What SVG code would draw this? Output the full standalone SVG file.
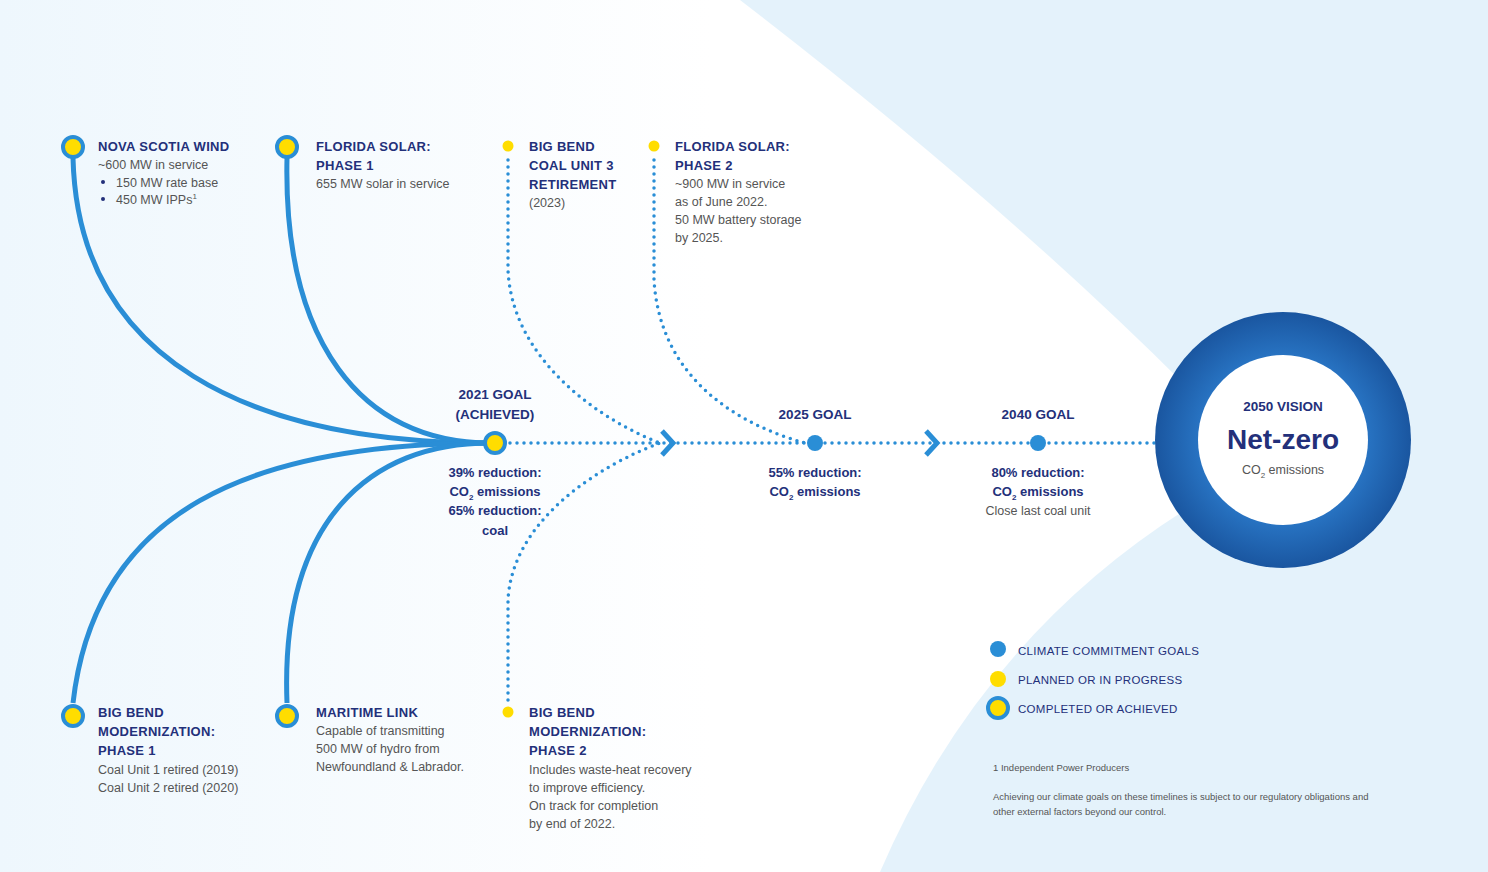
<svg xmlns="http://www.w3.org/2000/svg" width="1488" height="872" viewBox="0 0 1488 872">
<style>
.h{font-family:"Liberation Sans",Arial,sans-serif;font-weight:bold;font-size:13px;fill:#23307a;letter-spacing:0.3px}
.t{font-family:"Liberation Sans",Arial,sans-serif;font-size:12.5px;fill:#555}
.g{font-family:"Liberation Sans",Arial,sans-serif;font-weight:bold;font-size:13.5px;fill:#23307a;text-anchor:middle}
.r{font-family:"Liberation Sans",Arial,sans-serif;font-weight:bold;font-size:13px;fill:#23307a;text-anchor:middle}
.l{font-family:"Liberation Sans",Arial,sans-serif;font-size:11.5px;fill:#23307a;letter-spacing:0.3px}
.f{font-family:"Liberation Sans",Arial,sans-serif;font-size:9.5px;fill:#555}
.s{fill:none;stroke:#2a8ed6;stroke-width:5}
.d{fill:none;stroke:#2a8ed6;stroke-width:3.5;stroke-dasharray:0 7;stroke-linecap:round}
.ring{fill:#ffdd00;stroke:#2a8ed6;stroke-width:4}
.y{fill:#ffdd00}
</style>
<defs>
<linearGradient id="bg" x1="0" x2="1" y1="0" y2="0"><stop offset="0" stop-color="#eef7fd"/><stop offset="0.6" stop-color="#ffffff"/></linearGradient>
<radialGradient id="cg"><stop offset="0.6" stop-color="#2a78c8"/><stop offset="1" stop-color="#1a56a0"/></radialGradient>
</defs>
<rect width="1488" height="872" fill="#e4f2fb"/>
<path d="M0,0 L740,0 Q1000,200 1185,385 L1185,510 Q980,640 880,872 L0,872 Z" fill="url(#bg)"/>
<g id="connectors">
<path class="s" d="M73,158 C78,360 250,443 490,443"/>
<path class="s" d="M287,158 C283,340 360,443 490,443"/>
<path class="s" d="M73,703 C95,510 250,443 490,443"/>
<path class="s" d="M287,703 C280,520 370,443 490,443"/>
<path class="d" d="M508,160 L508,270 C512,360 600,420 660,443"/>
<path class="d" d="M654,160 L654,280 C660,380 740,425 805,443"/>
<path class="d" d="M508,700 L508,600 C512,520 600,465 660,443"/>
<path class="d" d="M510,443 L1158,443"/>
<path d="M662,431 L673,443 L662,455" fill="none" stroke="#2a8ed6" stroke-width="5"/>
<path d="M926,431 L937,443 L926,455" fill="none" stroke="#2a8ed6" stroke-width="5"/>
</g>
<g id="nova-scotia"><circle class="ring" cx="73" cy="147" r="10"/>
<text class="h" x="98" y="151">NOVA SCOTIA WIND</text>
<text class="t" x="98" y="169">~600 MW in service</text>
<circle cx="103" cy="182" r="2" fill="#23307a"/><text class="t" x="116" y="187">150 MW rate base</text>
<circle cx="103" cy="199" r="2" fill="#23307a"/><text class="t" x="116" y="204">450 MW IPPs<tspan font-size="8" dy="-5">1</tspan></text></g>
<g id="florida-solar-1"><circle class="ring" cx="287" cy="147" r="10"/>
<text class="h" x="316" y="151">FLORIDA SOLAR:</text><text class="h" x="316" y="170">PHASE 1</text>
<text class="t" x="316" y="188">655 MW solar in service</text></g>
<g id="big-bend-3"><circle class="y" cx="508" cy="146" r="5.5"/>
<text class="h" x="529" y="151">BIG BEND</text><text class="h" x="529" y="170">COAL UNIT 3</text><text class="h" x="529" y="189">RETIREMENT</text>
<text class="t" x="529" y="207">(2023)</text></g>
<g id="florida-solar-2"><circle class="y" cx="654" cy="146" r="5.5"/>
<text class="h" x="675" y="151">FLORIDA SOLAR:</text><text class="h" x="675" y="170">PHASE 2</text>
<text class="t" x="675" y="188">~900 MW in service</text><text class="t" x="675" y="206">as of June 2022.</text>
<text class="t" x="675" y="224">50 MW battery storage</text><text class="t" x="675" y="242">by 2025.</text></g>
<g id="big-bend-mod-1"><circle class="ring" cx="73" cy="716" r="10"/>
<text class="h" x="98" y="717">BIG BEND</text><text class="h" x="98" y="736">MODERNIZATION:</text><text class="h" x="98" y="755">PHASE 1</text>
<text class="t" x="98" y="774">Coal Unit 1 retired (2019)</text><text class="t" x="98" y="792">Coal Unit 2 retired (2020)</text></g>
<g id="maritime"><circle class="ring" cx="287" cy="716" r="10"/>
<text class="h" x="316" y="717">MARITIME LINK</text>
<text class="t" x="316" y="735">Capable of transmitting</text><text class="t" x="316" y="753">500 MW of hydro from</text><text class="t" x="316" y="771">Newfoundland &amp; Labrador.</text></g>
<g id="big-bend-mod-2"><circle class="y" cx="508" cy="712" r="5.5"/>
<text class="h" x="529" y="717">BIG BEND</text><text class="h" x="529" y="736">MODERNIZATION:</text><text class="h" x="529" y="755">PHASE 2</text>
<text class="t" x="529" y="774">Includes waste-heat recovery</text><text class="t" x="529" y="792">to improve efficiency.</text>
<text class="t" x="529" y="810">On track for completion</text><text class="t" x="529" y="828">by end of 2022.</text></g>
<g id="goal-2021"><circle class="ring" cx="495" cy="443" r="10"/>
<text class="g" x="495" y="399">2021 GOAL</text><text class="g" x="495" y="419">(ACHIEVED)</text>
<text class="r" x="495" y="477">39% reduction:</text><text class="r" x="495" y="496">CO<tspan font-size="8" dy="4">2</tspan><tspan dy="-4"> emissions</tspan></text>
<text class="r" x="495" y="515">65% reduction:</text><text class="r" x="495" y="535">coal</text></g>
<g id="goal-2025"><circle cx="815" cy="443" r="8" fill="#2a8ed6"/>
<text class="g" x="815" y="419">2025 GOAL</text>
<text class="r" x="815" y="477">55% reduction:</text><text class="r" x="815" y="496">CO<tspan font-size="8" dy="4">2</tspan><tspan dy="-4"> emissions</tspan></text></g>
<g id="goal-2040"><circle cx="1038" cy="443" r="8" fill="#2a8ed6"/>
<text class="g" x="1038" y="419">2040 GOAL</text>
<text class="r" x="1038" y="477">80% reduction:</text><text class="r" x="1038" y="496">CO<tspan font-size="8" dy="4">2</tspan><tspan dy="-4"> emissions</tspan></text>
<text class="t" x="1038" y="515" text-anchor="middle">Close last coal unit</text></g>
<g id="vision-2050"><circle cx="1283" cy="440" r="128" fill="url(#cg)"/><circle cx="1283" cy="440" r="85" fill="#fff"/>
<text class="g" x="1283" y="411">2050 VISION</text>
<text x="1283" y="449" text-anchor="middle" font-family="'Liberation Sans',Arial,sans-serif" font-weight="bold" font-size="28" fill="#23307a">Net-zero</text>
<text class="t" x="1283" y="474" text-anchor="middle" font-size="13" fill="#23307a">CO<tspan font-size="8" dy="4">2</tspan><tspan dy="-4"> emissions</tspan></text></g>
<g id="legend"><circle cx="998" cy="649" r="8" fill="#2a8ed6"/><text class="l" x="1018" y="655">CLIMATE COMMITMENT GOALS</text>
<circle cx="998" cy="679" r="8" fill="#ffdd00"/><text class="l" x="1018" y="684">PLANNED OR IN PROGRESS</text>
<circle class="ring" cx="998" cy="708" r="10"/><text class="l" x="1018" y="713">COMPLETED OR ACHIEVED</text>
<text class="f" x="993" y="771">1    Independent Power Producers</text>
<text class="f" x="993" y="800">Achieving our climate goals on these timelines is subject to our regulatory obligations and</text>
<text class="f" x="993" y="815">other external factors beyond our control.</text></g>
</svg>
